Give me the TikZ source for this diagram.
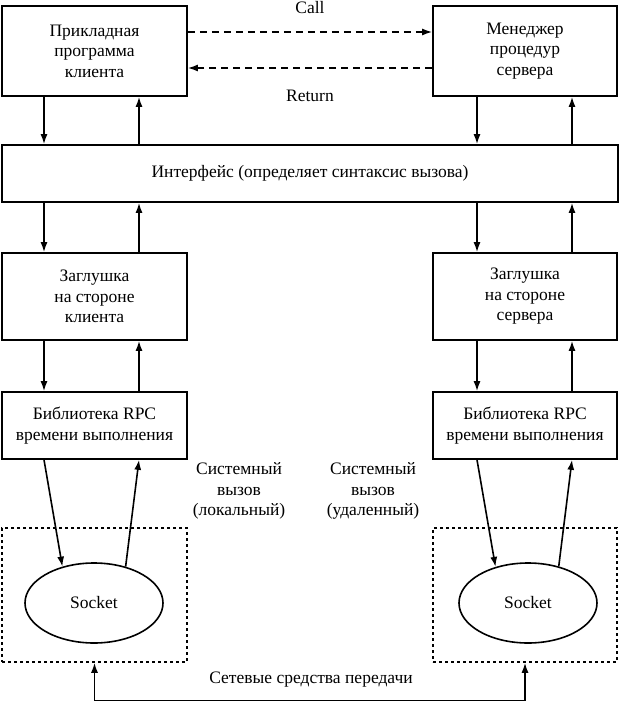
\documentclass[tikz,border=0pt]{standalone}
\usepackage{fontspec}
\setmainfont{Liberation Serif}
\usetikzlibrary{arrows.meta,shapes.geometric}
\begin{document}
\begin{tikzpicture}[x=1pt,y=-1pt,
  every node/.style={font=\fontsize{17.5}{20.5}\selectfont, inner sep=0pt, align=center},
  blk/.style={draw, line width=1.6pt, rectangle},
  dbox/.style={draw, line width=1.5pt, rectangle, dash pattern=on 3pt off 3pt},
  sock/.style={draw, line width=1.6pt, ellipse, minimum width=138pt, minimum height=80pt},
  arr/.style={line width=1.6pt, -{Latex[length=10pt,width=7pt]}},
  darr/.style={line width=1.6pt, dash pattern=on 7pt off 5pt, -{Latex[length=10pt,width=7pt]}},
  lbl/.style={}]
\useasboundingbox (0,0) rectangle (620,701);
% boxes
\node[blk, minimum width=185pt, minimum height=90pt] (app) at (94.5,51) {Прикладная\\программа\\клиента};
\node[blk, minimum width=184pt, minimum height=90pt] (mgr) at (525,51) {Менеджер\\процедур\\сервера};
\node[blk, minimum width=616pt, minimum height=57pt] (iface) at (310,173.5) {Интерфейс (определяет синтаксис вызова)};
\node[blk, minimum width=185pt, minimum height=87pt] (stubc) at (94.5,296.5) {Заглушка\\на стороне\\клиента};
\node[blk, minimum width=184pt, minimum height=87pt] (stubs) at (525,296.5) {Заглушка\\на стороне\\сервера};
\node[blk, minimum width=185pt, minimum height=67pt] (libc) at (94.5,425.5) {Библиотека RPC\\времени выполнения};
\node[blk, minimum width=184pt, minimum height=67pt] (libs) at (525,425.5) {Библиотека RPC\\времени выполнения};
\node[dbox, minimum width=185pt, minimum height=134pt] (dc) at (94.5,595) {};
\node[dbox, minimum width=184pt, minimum height=134pt] (ds) at (525,595) {};
\node[sock] (sc) at (94,603) {Socket};
\node[sock] (ss) at (528,603) {Socket};
% labels
\node[lbl] (call) at (310,8) {Call};
\node[lbl] (ret) at (310,96) {Return};
\node[lbl] (sysl) at (239,491) {Системный\\вызов\\(локальный)};
\node[lbl] (sysr) at (373,491) {Системный\\вызов\\(удаленный)};
\node[lbl] (net) at (311,680) {Сетевые средства передачи};
% dashed call/return
\draw[darr] (app.east |- 0,32) -- (mgr.west |- 0,32);
\draw[darr] (mgr.west |- 0,68) -- (app.east |- 0,68);
% vertical arrows client
\draw[arr] (app.south -| 44,0) -- (iface.north -| 44,0);
\draw[arr] (iface.north -| 139,0) -- (app.south -| 139,0);
\draw[arr] (iface.south -| 44,0) -- (stubc.north -| 44,0);
\draw[arr] (stubc.north -| 139,0) -- (iface.south -| 139,0);
\draw[arr] (stubc.south -| 44,0) -- (libc.north -| 44,0);
\draw[arr] (libc.north -| 139,0) -- (stubc.south -| 139,0);
% vertical arrows server
\draw[arr] (mgr.south -| 477,0) -- (iface.north -| 477,0);
\draw[arr] (iface.north -| 572,0) -- (mgr.south -| 572,0);
\draw[arr] (iface.south -| 477,0) -- (stubs.north -| 477,0);
\draw[arr] (stubs.north -| 572,0) -- (iface.south -| 572,0);
\draw[arr] (stubs.south -| 477,0) -- (libs.north -| 477,0);
\draw[arr] (libs.north -| 572,0) -- (stubs.south -| 572,0);
% slanted arrows to sockets
\draw[arr] (libc.south -| 44,0) -- (sc.131);
\draw[arr] (sc.49) -- (libc.south -| 139,0);
\draw[arr] (libs.south -| 477,0) -- (ss.132);
\draw[arr] (ss.50) -- (libs.south -| 572,0);
% network
\draw[line width=1.6pt, {Latex[length=10pt,width=7pt]}-{Latex[length=10pt,width=7pt]}] (dc.south) -- ++(0,38) -| (ds.south);
\end{tikzpicture}
\end{document}
